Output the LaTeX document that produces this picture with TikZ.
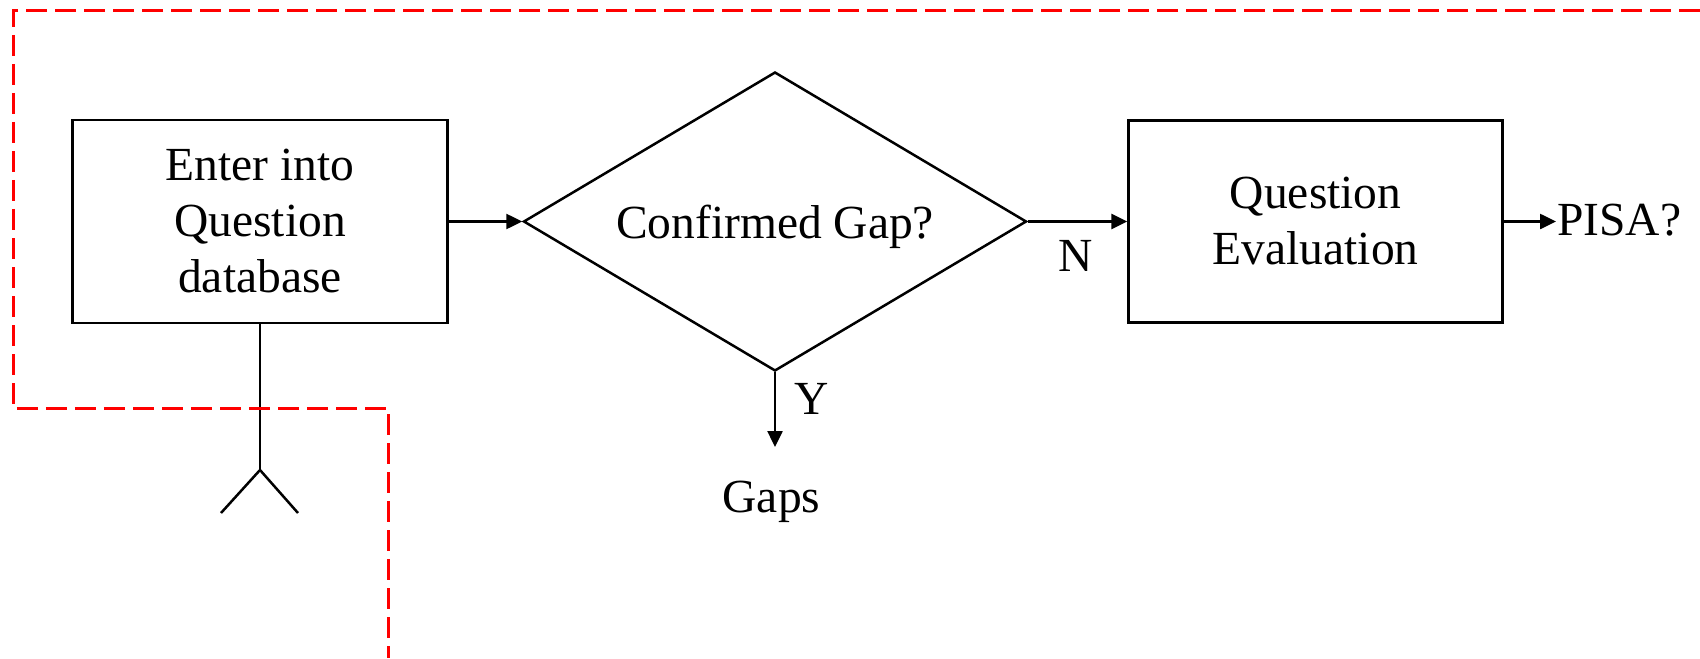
\documentclass[tikz,border=0pt]{standalone}
\usepackage{fontspec}
\setmainfont{Liberation Serif}
\usetikzlibrary{arrows.meta,shapes.geometric}
\newcommand\dgfont{\fontsize{23.75}{28}\selectfont}
\begin{document}
\begin{tikzpicture}[x=0.5pt,y=-0.5pt,
  line width=1.25pt,
  box/.style={draw, rectangle, inner sep=0pt, align=center, font=\dgfont},
  dia/.style={draw, diamond, aspect=1.68, inner sep=0pt, minimum width=251.5pt, minimum height=149.5pt, font=\dgfont, text height=16.8pt, text depth=0pt},
  lbl/.style={inner sep=0pt, font=\dgfont},
  arr/.style={-{Triangle[length=8pt,width=7.5pt]}},
  reddash/.style={draw=red, line width=1.5pt, dash pattern=on 10.5pt off 4pt}]
\useasboundingbox (0,0) rectangle (1700,658);
% nodes
\node[box, minimum width=187.5pt, minimum height=101.5pt] (b1) at (260,221.5) {Enter into\\Question\\database};
\node[dia] (d) at (775,221.5) {Confirmed Gap?};
\node[box, minimum width=187pt, minimum height=101pt] (b2) at (1315.6,221.5) {Question\\Evaluation};
\node[lbl, anchor=base west] (pisa) at (1556,235) {PISA?};
\node[lbl, anchor=base] (n) at (1076,271) {N};
\node[lbl, anchor=base] (y) at (812,414) {Y};
\node[lbl, anchor=base] (gaps) at (771.5,512) {Gaps};
\coordinate (ytip) at (775,447);
\coordinate (apex) at (260,470);
\coordinate (fl) at (221,513);
\coordinate (fr) at (298,513);
% connectors
\draw[arr] (b1.east) -- (d.west);
\draw[arr] (d.east) -- (b2.west);
\draw[arr] (b2.east) -- (b2.east -| pisa.west);
\draw[arr] (d.south) -- (ytip);
\draw (b1.south) -- (apex);
\draw (fl) -- (apex) -- (fr);
% red dashed boundary
\coordinate (r1) at (1700,11);
\coordinate (r2) at (13,11);
\coordinate (r3) at (13,408);
\coordinate (r4) at (388,408);
\coordinate (r5) at (388,658);
\draw[reddash] (r1) -- (r2) -- (r3) -- (r4) -- (r5);
\end{tikzpicture}
\end{document}
